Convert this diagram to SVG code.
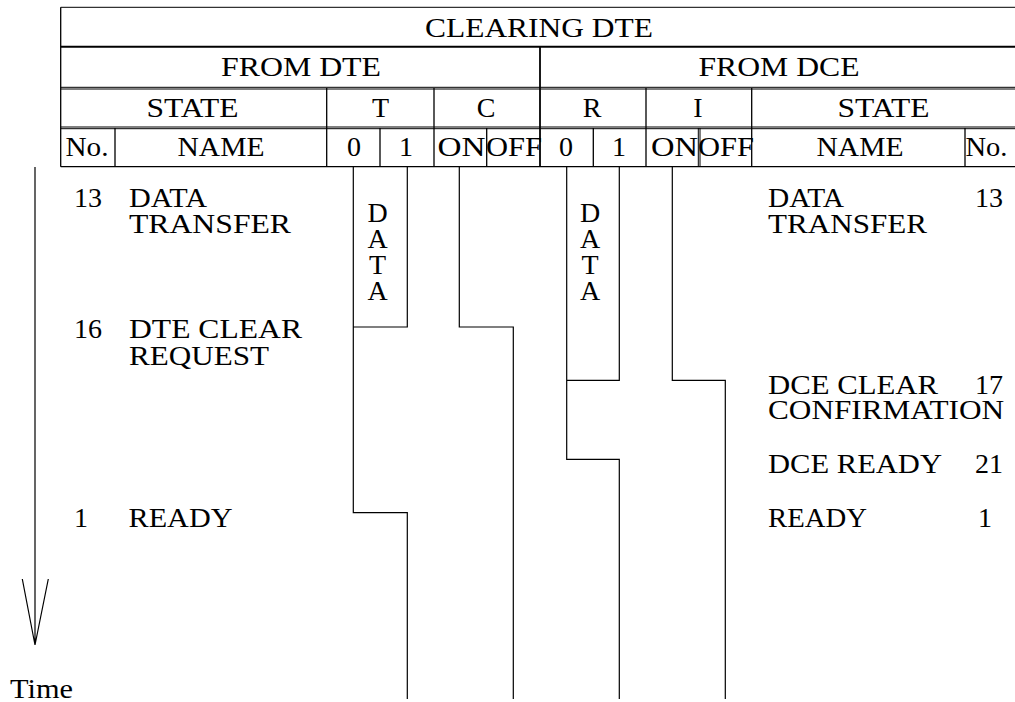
<svg xmlns="http://www.w3.org/2000/svg" width="1015" height="702" viewBox="0 0 1015 702">
<style>
text{font-family:"Liberation Serif","Times New Roman",serif;font-size:28px;fill:#000}
.c{text-anchor:middle}
.t{stroke:#000;stroke-width:1.3;fill:none}
.thin{stroke:#000;stroke-width:1;fill:none}
.sig{stroke:#000;stroke-width:1.2;fill:none}
</style>
<rect x="0" y="0" width="1015" height="702" fill="#fff"/>
<g id="table">
<path class="thin" d="M60.7,7.3H1015M60.7,87.3H1015M60.7,89H1015M60.7,127H1015M60.7,128.7H1015"/>
<path stroke="#000" stroke-width="2" d="M60.7,46.7H1015"/>
<path class="t" d="M60.7,166.7H1015M60.7,7.3V166.7"/>
<path stroke="#000" stroke-width="1.8" d="M540,46.7V166.7"/>
<path class="t" d="M326.7,88V166.7M434,88V166.7M646,88V166.7M751.7,88V166.7"/>
<path class="t" d="M115,128V166.7M380,128V166.7M486.7,128V166.7M593.3,128V166.7M965,128V166.7"/>
<path class="thin" d="M698.3,128V166.7M700,128V166.7"/>
<text x="425" y="36.7" textLength="228" lengthAdjust="spacingAndGlyphs">CLEARING DTE</text>
<text x="221" y="76" textLength="160" lengthAdjust="spacingAndGlyphs">FROM DTE</text>
<text x="698.5" y="76" textLength="161" lengthAdjust="spacingAndGlyphs">FROM DCE</text>
<text x="146.5" y="116.7" textLength="92" lengthAdjust="spacingAndGlyphs">STATE</text>
<text x="380.5" y="116.7" class="c">T</text>
<text x="486" y="116.7" class="c">C</text>
<text x="592" y="116.7" class="c">R</text>
<text x="698" y="116.7" class="c">I</text>
<text x="837.5" y="116.7" textLength="92" lengthAdjust="spacingAndGlyphs">STATE</text>
<text x="65.5" y="155.7" textLength="43" lengthAdjust="spacingAndGlyphs">No.</text>
<text x="177.5" y="155.7" textLength="87" lengthAdjust="spacingAndGlyphs">NAME</text>
<text x="354" y="155.7" class="c">0</text>
<text x="406" y="155.7" class="c">1</text>
<text x="437.5" y="155.7" textLength="48" lengthAdjust="spacingAndGlyphs">ON</text>
<text x="486" y="155.7" textLength="56" lengthAdjust="spacingAndGlyphs">OFF</text>
<text x="566" y="155.7" class="c">0</text>
<text x="619" y="155.7" class="c">1</text>
<text x="651" y="155.7" textLength="47" lengthAdjust="spacingAndGlyphs">ON</text>
<text x="698" y="155.7" textLength="56" lengthAdjust="spacingAndGlyphs">OFF</text>
<text x="816.5" y="155.7" textLength="87" lengthAdjust="spacingAndGlyphs">NAME</text>
<text x="965.5" y="155.7" textLength="42" lengthAdjust="spacingAndGlyphs">No.</text>
</g>
<g id="dte-states">
<text x="74" y="207">13</text>
<text x="129" y="207" textLength="78" lengthAdjust="spacingAndGlyphs">DATA</text>
<text x="129" y="233" textLength="162" lengthAdjust="spacingAndGlyphs">TRANSFER</text>
<text x="74" y="338">16</text>
<text x="129" y="338" textLength="173" lengthAdjust="spacingAndGlyphs">DTE CLEAR</text>
<text x="129" y="365" textLength="140" lengthAdjust="spacingAndGlyphs">REQUEST</text>
<text x="74" y="527">1</text>
<text x="128.5" y="527" textLength="104" lengthAdjust="spacingAndGlyphs">READY</text>
</g>
<g id="dce-states">
<text x="768" y="207" textLength="76" lengthAdjust="spacingAndGlyphs">DATA</text>
<text x="975" y="207">13</text>
<text x="768" y="233" textLength="159" lengthAdjust="spacingAndGlyphs">TRANSFER</text>
<text x="768" y="393.5" textLength="170" lengthAdjust="spacingAndGlyphs">DCE CLEAR</text>
<text x="975" y="393.5">17</text>
<text x="768" y="418.5" textLength="236" lengthAdjust="spacingAndGlyphs">CONFIRMATION</text>
<text x="768" y="472.5" textLength="174" lengthAdjust="spacingAndGlyphs">DCE READY</text>
<text x="975" y="472.5">21</text>
<text x="768" y="527" textLength="99" lengthAdjust="spacingAndGlyphs">READY</text>
<text x="978" y="527">1</text>
</g>
<g id="data-labels">
<text x="377.5" y="221.5" class="c">D</text>
<text x="377.5" y="247.5" class="c">A</text>
<text x="377.5" y="273.5" class="c">T</text>
<text x="377.5" y="300" class="c">A</text>
<text x="590" y="221.5" class="c">D</text>
<text x="590" y="247.5" class="c">A</text>
<text x="590" y="273.5" class="c">T</text>
<text x="590" y="300" class="c">A</text>
</g>
<g id="connectors">
<path id="sig-T" class="sig" d="M353.3,167V512.7H407.3V699M407.3,167V327H353.3"/>
<path id="sig-C" class="sig" d="M459.3,167V327H513.3V699"/>
<path id="sig-R" class="sig" d="M566.7,167V459.3H619.3V699M619.3,167V380.3H566.7"/>
<path id="sig-I" class="sig" d="M672.3,167V380.3H725.3V699"/>
</g>
<g id="time-axis">
<path class="sig" d="M35,167V645M22.3,579L35,645L48.3,579"/>
<text x="10" y="698" textLength="63" lengthAdjust="spacingAndGlyphs">Time</text>
</g>
</svg>
